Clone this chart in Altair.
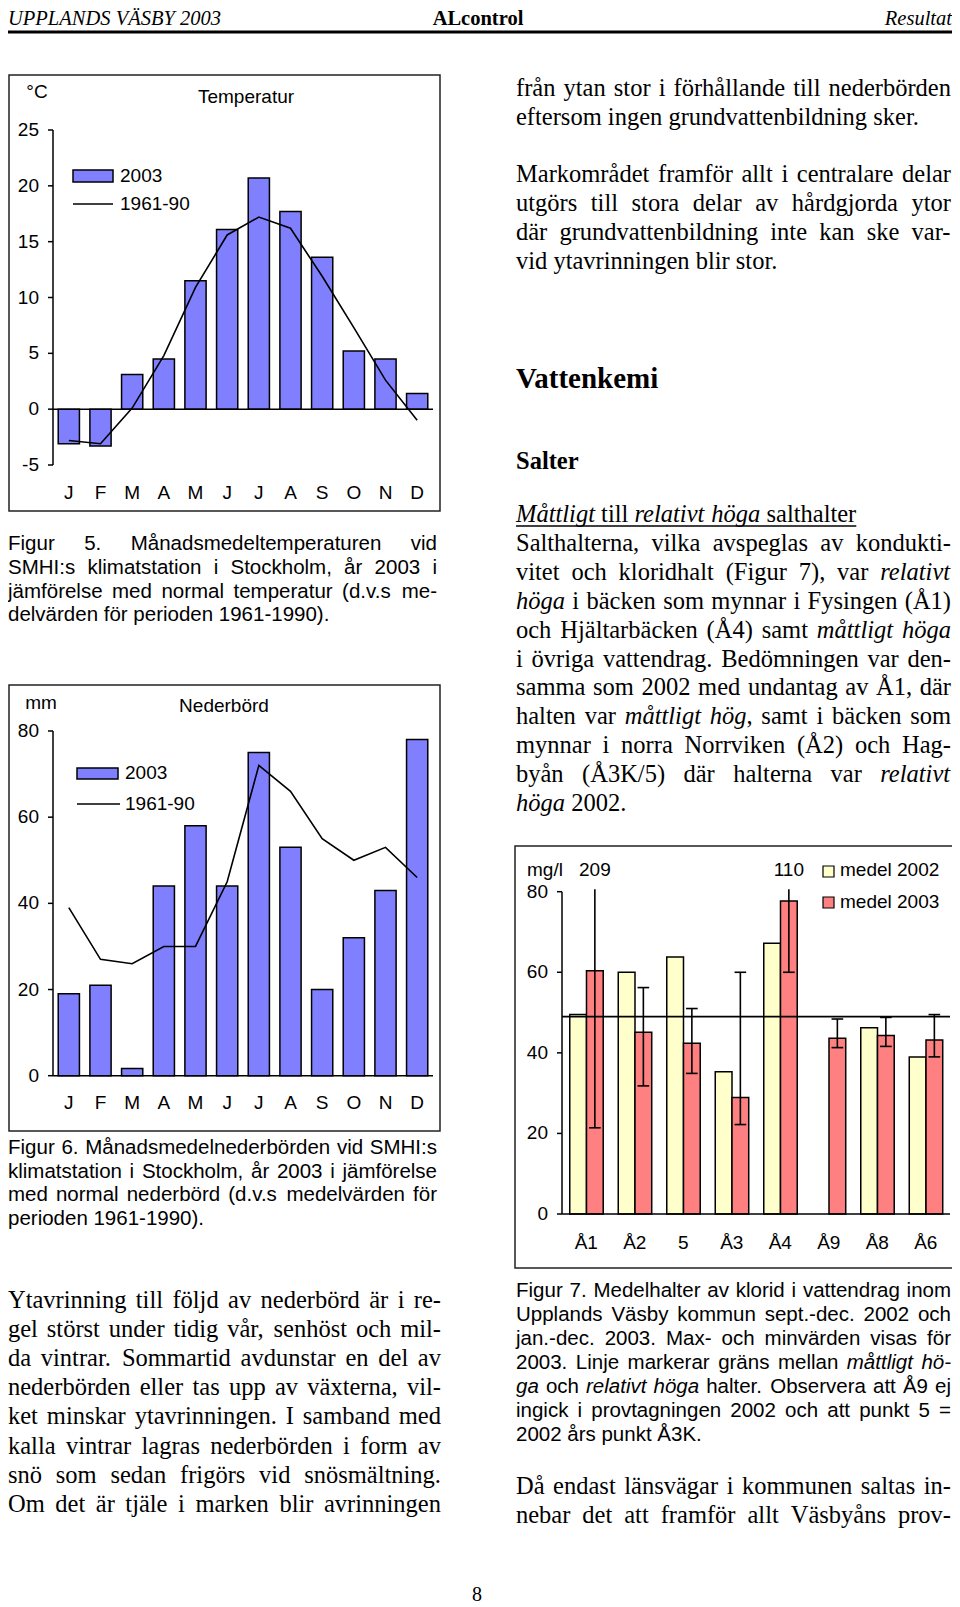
import altair as alt
import pandas as pd

# ---------------- data ----------------
months = ["jan", "feb", "mar", "apr", "maj", "jun", "jul", "aug", "sep", "okt", "nov", "dec"]
month_labels = ["J", "F", "M", "A", "M", "J", "J", "A", "S", "O", "N", "D"]
temp_2003 = [-3.1, -3.3, 3.1, 4.5, 11.5, 16.1, 20.7, 17.7, 13.6, 5.2, 4.5, 1.4]
temp_normal = [-2.8, -3.1, 0.1, 4.8, 10.9, 15.6, 17.2, 16.2, 11.9, 7.3, 2.6, -1.0]
temp_ticks = [-5, 0, 5, 10, 15, 20, 25]
temp_tick_labels = ["-5", "0", "5", "10", "15", "20", "25"]

prec_2003 = [19, 21, 1.7, 44, 58, 44, 75, 53, 20, 32, 43, 78]
prec_normal = [39, 27, 26, 30, 30, 45, 72, 66, 55, 50, 53, 46]
prec_ticks = [0, 20, 40, 60, 80]
prec_tick_labels = ["0", "20", "40", "60", "80"]

sites = ["Å1", "Å2", "5", "Å3", "Å4", "Å9", "Å8", "Å6"]
cl_2002 = [49.5, 60.0, 63.8, 35.3, 67.2, None, 46.2, 39.0]
cl_2003 = [60.4, 45.1, 42.4, 28.9, 77.7, 43.6, 44.3, 43.2]
cl_min = [21.4, 31.8, 34.9, 22.2, 60.0, 41.3, 41.6, 39.0]
cl_max = [209, 56.2, 51.0, 60.0, 110, 48.4, 48.8, 49.5]
cl_limit = 49
cl_ticks = [0, 20, 40, 60, 80]
cl_tick_labels = ["0", "20", "40", "60", "80"]

# ---------------- layout helpers ----------------
OFF = 8


def P(v):
    return v - OFF


SERIF = "Liberation Serif"
SANS = "Liberation Sans"
CHART_FONT = SANS
CF = 19
DUMMY = pd.DataFrame({"d": [0]})


def wtable(groups):
    d = {}
    for w, chars in groups:
        for c in chars:
            d[c] = w
    return d


W_TR = wtable([(250, " .,"), (278, "ijlt:;/"), (333, "()-frI"), (389, "sJ"),
               (444, "aceczåäé?"), (500, "bdghknopquvxy0123456789ö*"), (556, "FPS"),
               (564, "=+<>"), (611, "ELTZ"), (667, "BCR"), (722, "ADGHKNOQUVXYÅÄÖw"),
               (778, "m"), (889, "M"), (944, "W")])
W_TI = wtable([(250, " .,"), (278, "fijlt/"), (333, "()-:I"), (389, "rsz"),
               (444, "cekvxyJ"), (500, "abdghnopqu0123456789åäöS"), (556, "LTYZ"),
               (611, "ABEFPRVXÅÄ"), (667, "CKNw"), (722, "DGHOQUÖm"), (833, "MW")])
W_H = wtable([(222, "ijl"), (278, " .,:;/ftI!"), (333, "()-r"), (500, "ckvxyzsJ"),
              (556, "abdeghnopquL0123456789åäö"), (584, "=+<>"), (611, "FTZ"),
              (667, "ABEKPSVXYÅÄ"), (722, "CDHNRUw"), (778, "GOQÖ"), (833, "mM"), (944, "W")])
TABLES = {("serif", False): W_TR, ("serif", True): W_TI, ("sans", False): W_H, ("sans", True): W_H}


def tw(s, table, size):
    return sum(table.get(c, 500) for c in s) * size / 1000.0


def layout(lines, family, size, left, right, y0, lh):
    rows = []
    italic = False
    space = tw(" ", TABLES[(family, False)], size)
    for li, (line, just) in enumerate(lines):
        y = y0 + li * lh
        parts = []
        for w in line.split(" "):
            segs, cur = [], ""
            for ch in w:
                if ch == "*":
                    if cur:
                        segs.append((cur, italic))
                        cur = ""
                    italic = not italic
                else:
                    cur += ch
            if cur:
                segs.append((cur, italic))
            parts.append(segs)
        widths = [sum(tw(t, TABLES[(family, it)], size) for t, it in segs) for segs in parts]
        natural = sum(widths) + space * (len(parts) - 1)
        extra = 0.0
        if just and len(parts) > 1:
            extra = (right - left - natural) / (len(parts) - 1)
        x = left
        for segs in parts:
            for t, it in segs:
                rows.append({"text": t, "x": P(x), "y": P(y), "it": it})
                x += tw(t, TABLES[(family, it)], size)
            x += space + extra
    return rows


def text_layers(rows, font, size, weight="normal"):
    df = pd.DataFrame(rows)
    out = []
    for it in [False, True]:
        sub = df[df["it"] == it][["text", "x", "y"]]
        if len(sub) == 0:
            continue
        out.append(alt.Chart(sub).mark_text(
            align="left", baseline="alphabetic", font=font, fontSize=size,
            fontStyle="italic" if it else "normal", fontWeight=weight, color="black"
        ).encode(x=alt.X("x:Q", scale=None, axis=None),
                 y=alt.Y("y:Q", scale=None, axis=None),
                 text="text:N"))
    return out


def label(text, x, y, size=CF, font=CHART_FONT, align="left", baseline="middle",
          weight="normal", style="normal"):
    return alt.Chart(pd.DataFrame({"t": [text]})).mark_text(
        align=align, baseline=baseline, font=font, fontSize=size, fontWeight=weight,
        fontStyle=style, color="black"
    ).encode(x=alt.value(P(x)), y=alt.value(P(y)), text="t:N")


def box(x1, y1, x2, y2, fill="transparent", stroke="#222", sw=1.5):
    return alt.Chart(DUMMY).mark_rect(fill=fill, stroke=stroke, strokeWidth=sw).encode(
        x=alt.value(P(x1)), x2=alt.value(P(x2)), y=alt.value(P(y1)), y2=alt.value(P(y2)))


def hline(x1, x2, y, sw=1.5, color="black"):
    return alt.Chart(DUMMY).mark_rule(color=color, strokeWidth=sw).encode(
        x=alt.value(P(x1)), x2=alt.value(P(x2)), y=alt.value(P(y)))


# ---------------- monthly charts ----------------
def monthly(vals, normals, ticks, tick_labels, ydom, ybottom, ytop, month_y):
    df = pd.DataFrame({"month": months, "lab": month_labels, "v": vals, "n": normals,
                       "idx": list(range(12))})
    xs = alt.Scale(domain=months, range=[P(53), P(433)], paddingInner=0.33, paddingOuter=0.165)
    ys = alt.Scale(domain=ydom, range=[P(ybottom), P(ytop)], nice=False, zero=False)
    base = alt.Chart(df)
    bars = base.mark_bar(fill="#8080FF", stroke="black", strokeWidth=1.5).encode(
        x=alt.X("month:N", scale=xs, axis=None),
        y=alt.Y("v:Q", scale=ys, axis=None),
        y2=alt.Y2(datum=0))
    line = base.mark_line(color="black", strokeWidth=1.6).encode(
        x=alt.X("month:N", scale=xs, axis=None),
        y=alt.Y("n:Q", scale=ys, axis=None),
        order=alt.Order("idx:Q"))
    mlabels = base.mark_text(font=CHART_FONT, fontSize=CF, baseline="middle", color="black").encode(
        x=alt.X("month:N", scale=xs, axis=None), y=alt.value(P(month_y)), text="lab:N")
    tdf = pd.DataFrame({"t": ticks, "lab": tick_labels})
    tb = alt.Chart(tdf)
    yaxis = tb.mark_rule(color="black", strokeWidth=1.5).encode(
        x=alt.value(P(53)), y=alt.Y("min(t):Q", scale=ys, axis=None), y2=alt.Y2("max(t):Q"))
    yticks = tb.mark_rule(color="black", strokeWidth=1.5).encode(
        x=alt.value(P(48)), x2=alt.value(P(53)), y=alt.Y("t:Q", scale=ys, axis=None))
    ylabels = tb.mark_text(font=CHART_FONT, fontSize=CF, align="right", baseline="middle",
                           color="black").encode(
        x=alt.value(P(39)), y=alt.Y("t:Q", scale=ys, axis=None), text="lab:N")
    zero = tb.transform_filter("datum.t == 0").mark_rule(color="black", strokeWidth=1.5).encode(
        x=alt.value(P(53)), x2=alt.value(P(433)), y=alt.Y("t:Q", scale=ys, axis=None))
    return alt.layer(bars, line, yaxis, yticks, ylabels, zero, mlabels)


chart_temp = monthly(temp_2003, temp_normal, temp_ticks, temp_tick_labels, [-5, 25], 465, 130, 493)
chart_prec = monthly(prec_2003, prec_normal, prec_ticks, prec_tick_labels, [0, 80], 1075.7, 731, 1103)

# ---------------- chloride chart ----------------
df3 = pd.DataFrame({"site": sites, "i": list(range(len(sites))), "m02": cl_2002, "m03": cl_2003,
                    "lo": cl_min, "hi": cl_max})
xs3 = alt.Scale(domain=[0, len(sites)], range=[P(562), P(950)], nice=False, zero=False)
ys3 = alt.Scale(domain=[0, 80], range=[P(1214), P(891.7)], nice=False, zero=False)
b3 = alt.Chart(df3)
bar02 = b3.transform_filter("isValid(datum.m02)").transform_calculate(
    a="datum.i + 0.16", b="datum.i + 0.505").mark_bar(
    fill="#FFFFCC", stroke="black", strokeWidth=1.5).encode(
    x=alt.X("a:Q", scale=xs3, axis=None), x2="b:Q",
    y=alt.Y("m02:Q", scale=ys3, axis=None), y2=alt.Y2(datum=0))
bar03 = b3.transform_calculate(a="datum.i + 0.505", b="datum.i + 0.85").mark_bar(
    fill="#FF8080", stroke="black", strokeWidth=1.5).encode(
    x=alt.X("a:Q", scale=xs3, axis=None), x2="b:Q",
    y=alt.Y("m03:Q", scale=ys3, axis=None), y2=alt.Y2(datum=0))
eb = b3.transform_calculate(c="datum.i + 0.6775", top="min(datum.hi, 80.6)")
err = eb.mark_rule(color="black", strokeWidth=1.6).encode(
    x=alt.X("c:Q", scale=xs3, axis=None), y=alt.Y("lo:Q", scale=ys3, axis=None), y2="top:Q")
cap_lo = eb.transform_calculate(c1="datum.c - 0.12", c2="datum.c + 0.12").mark_rule(
    color="black", strokeWidth=1.6).encode(
    x=alt.X("c1:Q", scale=xs3, axis=None), x2="c2:Q", y=alt.Y("lo:Q", scale=ys3, axis=None))
cap_hi = eb.transform_filter("datum.hi <= 80").transform_calculate(
    c1="datum.c - 0.12", c2="datum.c + 0.12").mark_rule(color="black", strokeWidth=1.6).encode(
    x=alt.X("c1:Q", scale=xs3, axis=None), x2="c2:Q", y=alt.Y("hi:Q", scale=ys3, axis=None))
hi_lab = eb.transform_filter("datum.hi > 80").mark_text(
    font=CHART_FONT, fontSize=CF, baseline="middle", color="black").encode(
    x=alt.X("c:Q", scale=xs3, axis=None), y=alt.value(P(870)), text=alt.Text("hi:Q", format="d"))
site_lab = b3.transform_calculate(m="datum.i + 0.5").mark_text(
    font=CHART_FONT, fontSize=CF, baseline="middle", color="black").encode(
    x=alt.X("m:Q", scale=xs3, axis=None), y=alt.value(P(1243)), text="site:N")
lim = alt.Chart(pd.DataFrame({"lim": [cl_limit]})).mark_rule(color="black", strokeWidth=1.6).encode(
    x=alt.value(P(562)), x2=alt.value(P(950)), y=alt.Y("lim:Q", scale=ys3, axis=None))
t3 = alt.Chart(pd.DataFrame({"t": cl_ticks, "lab": cl_tick_labels}))
yaxis3 = t3.mark_rule(color="black", strokeWidth=1.5).encode(
    x=alt.value(P(562)), y=alt.Y("min(t):Q", scale=ys3, axis=None), y2=alt.Y2("max(t):Q"))
yticks3 = t3.mark_rule(color="black", strokeWidth=1.5).encode(
    x=alt.value(P(557)), x2=alt.value(P(562)), y=alt.Y("t:Q", scale=ys3, axis=None))
ylab3 = t3.mark_text(font=CHART_FONT, fontSize=CF, align="right", baseline="middle",
                     color="black").encode(
    x=alt.value(P(548)), y=alt.Y("t:Q", scale=ys3, axis=None), text="lab:N")
zero3 = t3.transform_filter("datum.t == 0").mark_rule(color="black", strokeWidth=1.5).encode(
    x=alt.value(P(562)), x2=alt.value(P(950)), y=alt.Y("t:Q", scale=ys3, axis=None))
chart_cl = alt.layer(bar02, bar03, lim, err, cap_lo, cap_hi, yaxis3, yticks3, ylab3, zero3,
                     hi_lab, site_lab)

# ---------------- decorations ----------------
deco = [
    hline(8, 957, 32, sw=2.8),
    label("UPPLANDS VÄSBY 2003", 8, 25, size=20.5, font=SERIF, baseline="alphabetic", style="italic"),
    label("ALcontrol", 478, 25, size=20.5, font=SERIF, align="center", baseline="alphabetic", weight="bold"),
    label("Resultat", 952, 25, size=20.5, font=SERIF, align="right", baseline="alphabetic", style="italic"),
    # chart 1 frame, titles, legend
    box(9, 75, 440, 511),
    label("°C", 37, 92, align="center"),
    label("Temperatur", 246, 97, align="center"),
    box(73, 170, 113, 182, fill="#8080FF", stroke="black"),
    label("2003", 120, 176),
    hline(73, 113, 204),
    label("1961-90", 120, 204),
    # chart 2
    box(9, 685, 440, 1131),
    label("mm", 41, 703, align="center"),
    label("Nederbörd", 224, 706, align="center"),
    box(77, 768, 118, 779, fill="#8080FF", stroke="black"),
    label("2003", 125, 773),
    hline(77, 120, 804),
    label("1961-90", 125, 804),
    # chart 3
    box(515, 846, 957, 1268),
    label("mg/l", 527, 870),
    box(823, 866, 834, 877, fill="#FFFFCC", stroke="black", sw=1.2),
    label("medel 2002", 840, 870),
    box(823, 897, 834, 908, fill="#FF8080", stroke="black", sw=1.2),
    label("medel 2003", 840, 902),
    # page number
    label("8", 477, 1601, size=20, font=SERIF, align="center", baseline="alphabetic"),
    label("Vattenkemi", 516, 388, size=29, font=SERIF, baseline="alphabetic", weight="bold"),
    label("Salter", 516, 469, size=24.5, font=SERIF, baseline="alphabetic", weight="bold"),
]

# ---------------- body text ----------------
BS = 24.5
LH = 28.9
RL, RR = 516, 951
texts = []
texts += text_layers(layout([("från ytan stor i förhållande till nederbörden", True),
                             ("eftersom ingen grundvattenbildning sker.", False)],
                            "serif", BS, RL, RR, 96, LH), SERIF, BS)
texts += text_layers(layout([("Markområdet framför allt i centralare delar", True),
                             ("utgörs till stora delar av hårdgjorda ytor", True),
                             ("där grundvattenbildning inte kan ske var-", True),
                             ("vid ytavrinningen blir stor.", False)],
                            "serif", BS, RL, RR, 182, LH), SERIF, BS)
salter = [("*Måttligt* till *relativt höga* salthalter", False),
          ("Salthalterna, vilka avspeglas av kondukti-", True),
          ("vitet och kloridhalt (Figur 7), var *relativt*", True),
          ("*höga* i bäcken som mynnar i Fysingen (Å1)", True),
          ("och Hjältarbäcken (Å4) samt *måttligt höga*", True),
          ("i övriga vattendrag. Bedömningen var den-", True),
          ("samma som 2002 med undantag av Å1, där", True),
          ("halten var *måttligt hög*, samt i bäcken som", True),
          ("mynnar i norra Norrviken (Å2) och Hag-", True),
          ("byån (Å3K/5) där halterna var *relativt*", True),
          ("*höga* 2002.", False)]
texts += text_layers(layout(salter, "serif", BS, RL, RR, 522, LH), SERIF, BS)
ul_w = tw("Måttligt", W_TI, BS) + tw(" till ", W_TR, BS) + tw("relativt höga", W_TI, BS) + tw(" salthalter", W_TR, BS)
texts.append(hline(RL, RL + ul_w, 526, sw=1.3))

cap7 = [("Figur 7. Medelhalter av klorid i vattendrag inom", True),
        ("Upplands Väsby kommun sept.-dec. 2002 och", True),
        ("jan.-dec. 2003. Max- och minvärden visas för", True),
        ("2003. Linje markerar gräns mellan *måttligt hö-*", True),
        ("*ga* och *relativt höga* halter. Observera att Å9 ej", True),
        ("ingick i provtagningen 2002 och att punkt 5 =", True),
        ("2002 års punkt Å3K.", False)]
CS = 20.5
texts += text_layers(layout(cap7, "sans", CS, RL, RR, 1297, 24.0), SANS, CS)
texts += text_layers(layout([("Då endast länsvägar i kommunen saltas in-", True),
                             ("nebar det att framför allt Väsbyåns prov-", True)],
                            "serif", BS, RL, RR, 1494, LH), SERIF, BS)

cap5 = [("Figur 5. Månadsmedeltemperaturen vid", True),
        ("SMHI:s klimatstation i Stockholm, år 2003 i", True),
        ("jämförelse med normal temperatur (d.v.s me-", True),
        ("delvärden för perioden 1961-1990).", False)]
texts += text_layers(layout(cap5, "sans", CS, 8, 437, 550, 23.8), SANS, CS)
cap6 = [("Figur 6. Månadsmedelnederbörden vid SMHI:s", True),
        ("klimatstation i Stockholm, år 2003 i jämförelse", True),
        ("med normal nederbörd (d.v.s medelvärden för", True),
        ("perioden 1961-1990).", False)]
texts += text_layers(layout(cap6, "sans", CS, 8, 437, 1154, 23.6), SANS, CS)
ytav = [("Ytavrinning till följd av nederbörd är i re-", True),
        ("gel störst under tidig vår, senhöst och mil-", True),
        ("da vintrar. Sommartid avdunstar en del av", True),
        ("nederbörden eller tas upp av växterna, vil-", True),
        ("ket minskar ytavrinningen. I samband med", True),
        ("kalla vintrar lagras nederbörden i form av", True),
        ("snö som sedan frigörs vid snösmältning.", True),
        ("Om det är tjäle i marken blir avrinningen", True)]
texts += text_layers(layout(ytav, "serif", BS, 8, 441, 1308, 29.1), SERIF, BS)

chart = alt.layer(chart_temp, chart_prec, chart_cl, *deco, *texts).resolve_scale(
    x="independent", y="independent"
).properties(
    width=944, height=1599, padding=0, background="white",
    autosize=alt.AutoSizeParams(type="none")
).configure_view(stroke=None, strokeWidth=0)

chart.save("out.html", embed_options={"renderer": "svg", "actions": False})
